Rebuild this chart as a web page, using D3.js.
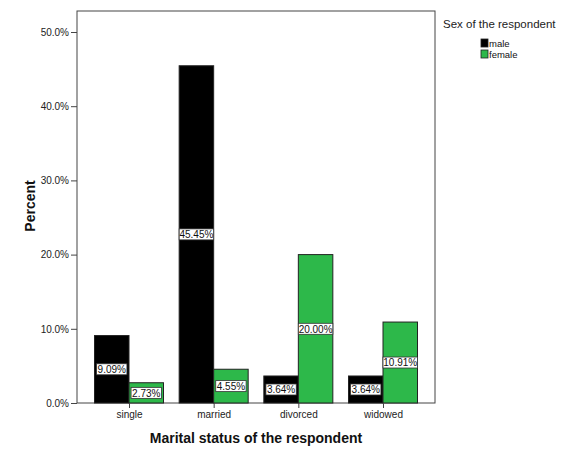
<!DOCTYPE html>
<html><head><meta charset="utf-8">
<script src="https://cdn.jsdelivr.net/npm/d3@7"></script>
<style>body{margin:0;background:#fff}svg{display:block;font-family:"Liberation Sans",Arial,sans-serif}</style>
</head><body><svg id="c" width="580" height="464"></svg>
<script>
const categories = ["single","married","divorced","widowed"];
const seriesNames = ["male","female"];
const maleValues = [9.09, 45.45, 3.64, 3.64];
const femaleValues = [2.73, 4.55, 20.00, 10.91];
const yTicks = [0,10,20,30,40,50];
const colors = ["#000000","#2db84a"];

const svg = d3.select("#c");
const L=77, R=435, T=11, B=403;
const y = d3.scaleLinear().domain([0,50]).range([B,32]);
const x = d3.scalePoint().domain(categories).range([129,383]);
const bw = 34.5;
const xs = d3.scaleBand().domain(seriesNames).range([-bw, bw]).padding(0);

svg.append("rect").attr("x",L).attr("y",T).attr("width",R-L).attr("height",B-T)
  .attr("fill","#fff").attr("stroke","#444").attr("stroke-width",1);

const data = [];
categories.forEach((c,i)=>{
  data.push({c, s:"male", v:maleValues[i]});
  data.push({c, s:"female", v:femaleValues[i]});
});

const g = svg.append("g");
g.selectAll("rect.bar").data(data).join("rect").attr("class","bar")
  .attr("x",d=>x(d.c)+xs(d.s)).attr("width",xs.bandwidth())
  .attr("y",d=>y(d.v)).attr("height",d=>B-y(d.v))
  .attr("fill",d=>colors[seriesNames.indexOf(d.s)])
  .attr("stroke","#222").attr("stroke-width",1);

const defs = svg.append("defs");
const lab = g.selectAll("g.lab").data(data).join("g").attr("class","lab")
  .attr("transform",d=>`translate(${x(d.c)+xs(d.s)+xs.bandwidth()/2},${(y(d.v)+B)/2})`);
lab.each(function(d,i){
  const gg = d3.select(this);
  const r = gg.append("rect").attr("y",-5.5).attr("height",11)
    .attr("fill","#fff").attr("stroke","#333").attr("stroke-width",0.8);
  const t = gg.append("text").attr("text-anchor","middle").attr("y",3.8).attr("font-size","10px").attr("fill","#111")
    .text(d.v.toFixed(2)+"%");
  const w = Math.min(t.node().getComputedTextLength()+2, xs.bandwidth());
  r.attr("x",-w/2).attr("width",w);
  defs.append("clipPath").attr("id","cl"+i).append("rect").attr("x",-w/2).attr("y",-6).attr("width",w).attr("height",12);
  t.attr("clip-path",`url(#cl${i})`);
});

// y axis
const ya = svg.append("g").attr("transform",`translate(${L},0)`)
  .call(d3.axisLeft(y).tickValues(yTicks).tickFormat(d=>d.toFixed(1)+"%").tickSize(6).tickPadding(2));
ya.select(".domain").remove();
ya.selectAll("line").attr("stroke","#444");
ya.selectAll("text").attr("font-size","10px").attr("fill","#222").attr("font-family","Liberation Sans, Arial, sans-serif");

// x axis
const xa = svg.append("g").attr("transform",`translate(0,${B})`)
  .call(d3.axisBottom(x).tickSize(5).tickPadding(3));
xa.select(".domain").remove();
xa.selectAll("line").attr("stroke","#444");
xa.selectAll("text").attr("font-size","10px").attr("fill","#222").attr("font-family","Liberation Sans, Arial, sans-serif");

svg.append("text").attr("x",256).attr("y",443).attr("text-anchor","middle")
  .attr("font-size","14px").attr("font-weight","bold").attr("fill","#111").text("Marital status of the respondent");
svg.append("text").attr("transform","translate(35,206) rotate(-90)").attr("text-anchor","middle")
  .attr("font-size","14px").attr("font-weight","bold").attr("fill","#111").text("Percent");

// legend
svg.append("text").attr("x",443).attr("y",28).attr("font-size","11.5px").attr("fill","#222").text("Sex of the respondent");
const lg = svg.append("g").selectAll("g").data(seriesNames).join("g")
  .attr("transform",(d,i)=>`translate(481,${39+i*11})`);
lg.append("rect").attr("width",7).attr("height",8).attr("fill",(d,i)=>colors[i]).attr("stroke","#222").attr("stroke-width",0.8);
lg.append("text").attr("x",8).attr("y",7.5).attr("font-size","9.5px").attr("fill","#111").text(d=>d);
</script></body></html>
